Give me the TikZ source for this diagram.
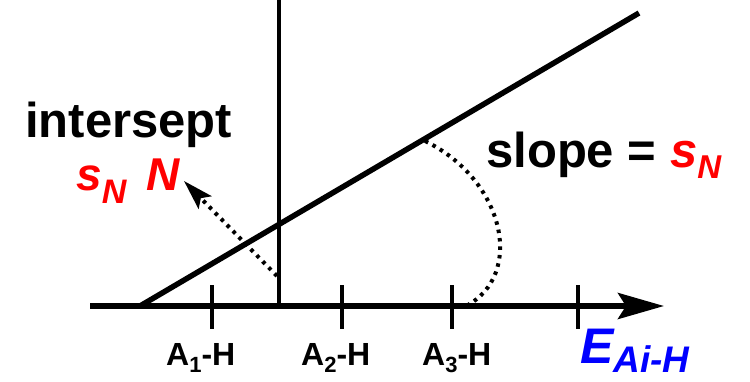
\documentclass[tikz,border=0pt]{standalone}
\usepackage{fontspec}
\setmainfont{Liberation Sans}
\usetikzlibrary{arrows.meta}
\definecolor{myred}{RGB}{255,0,0}
\definecolor{myblue}{RGB}{0,0,255}
\newcommand\mysub[3]{\raisebox{-#1}{\fontsize{#2}{#2}\selectfont #3}}
\begin{document}
\begin{tikzpicture}[x=1pt,y=-1pt,
  axisline/.style={line width=5.5pt},
  mainline/.style={line width=5.5pt},
  vline/.style={line width=4pt},
  tickmark/.style={line width=4pt},
  dotline/.style={line width=4pt, dash pattern=on 3.5pt off 5pt},
  txt/.style={inner sep=0pt, anchor=base west}]
\useasboundingbox (0,0) rectangle (750,381);
% coordinates
\coordinate (ax0) at (90,306);
\coordinate (ax1) at (664,306);
\coordinate (vtop) at (279,0);
\coordinate (vbot) at (279,306);
\coordinate (s0) at (140,306);
\coordinate (s1) at (639,13);
\foreach \n/\x in {1/212,2/342,3/452,4/578}{
  \coordinate (t\n a) at (\x,285);
  \coordinate (t\n b) at (\x,329);
}
\coordinate (ia) at (277,276);
\coordinate (ib) at (184,181);
\coordinate (arc0) at (425,141);
\coordinate (arc1) at (466,306);
% lines
\draw[axisline,-{Stealth[length=46pt,width=26pt,inset=8pt]}] (ax0) -- (ax1);
\draw[vline] (vtop) -- (vbot);
\draw[mainline] (s0) -- (s1);
\foreach \n in {1,2,3,4}{\draw[tickmark] (t\n a) -- (t\n b);}
\draw[dotline,-{Stealth[length=30pt,width=18pt,inset=6pt]}] (ia) -- (ib);
\draw[dotline] (arc0) .. controls (505,180) and (525,275) .. (arc1);
% texts
\node[txt, font=\fontsize{49}{49}\selectfont\bfseries] (inter) at (25,137) {intersept};
\node[txt, font=\fontsize{46}{46}\selectfont\bfseries\itshape, text=myred] (sN) at (76,190)
  {s\mysub{13pt}{34}{N}\hspace{20pt}N};
\node[txt, font=\fontsize{49}{49}\selectfont\bfseries] (slope) at (486,167)
  {slope = \textcolor{myred}{\itshape s\mysub{11pt}{33}{N}}};
\node[txt, font=\fontsize{32}{32}\selectfont\bfseries] (a1) at (166,365) {A\mysub{7pt}{22}{1}-H};
\node[txt, font=\fontsize{32}{32}\selectfont\bfseries] (a2) at (301,365) {A\mysub{7pt}{22}{2}-H};
\node[txt, font=\fontsize{32}{32}\selectfont\bfseries] (a3) at (422,365) {A\mysub{7pt}{22}{3}-H};
\node[txt, font=\fontsize{50}{50}\selectfont\bfseries\itshape, text=myblue] (E) at (580,363)
  {E\mysub{9pt}{37}{\smash{Ai-H}}};
\end{tikzpicture}
\end{document}
